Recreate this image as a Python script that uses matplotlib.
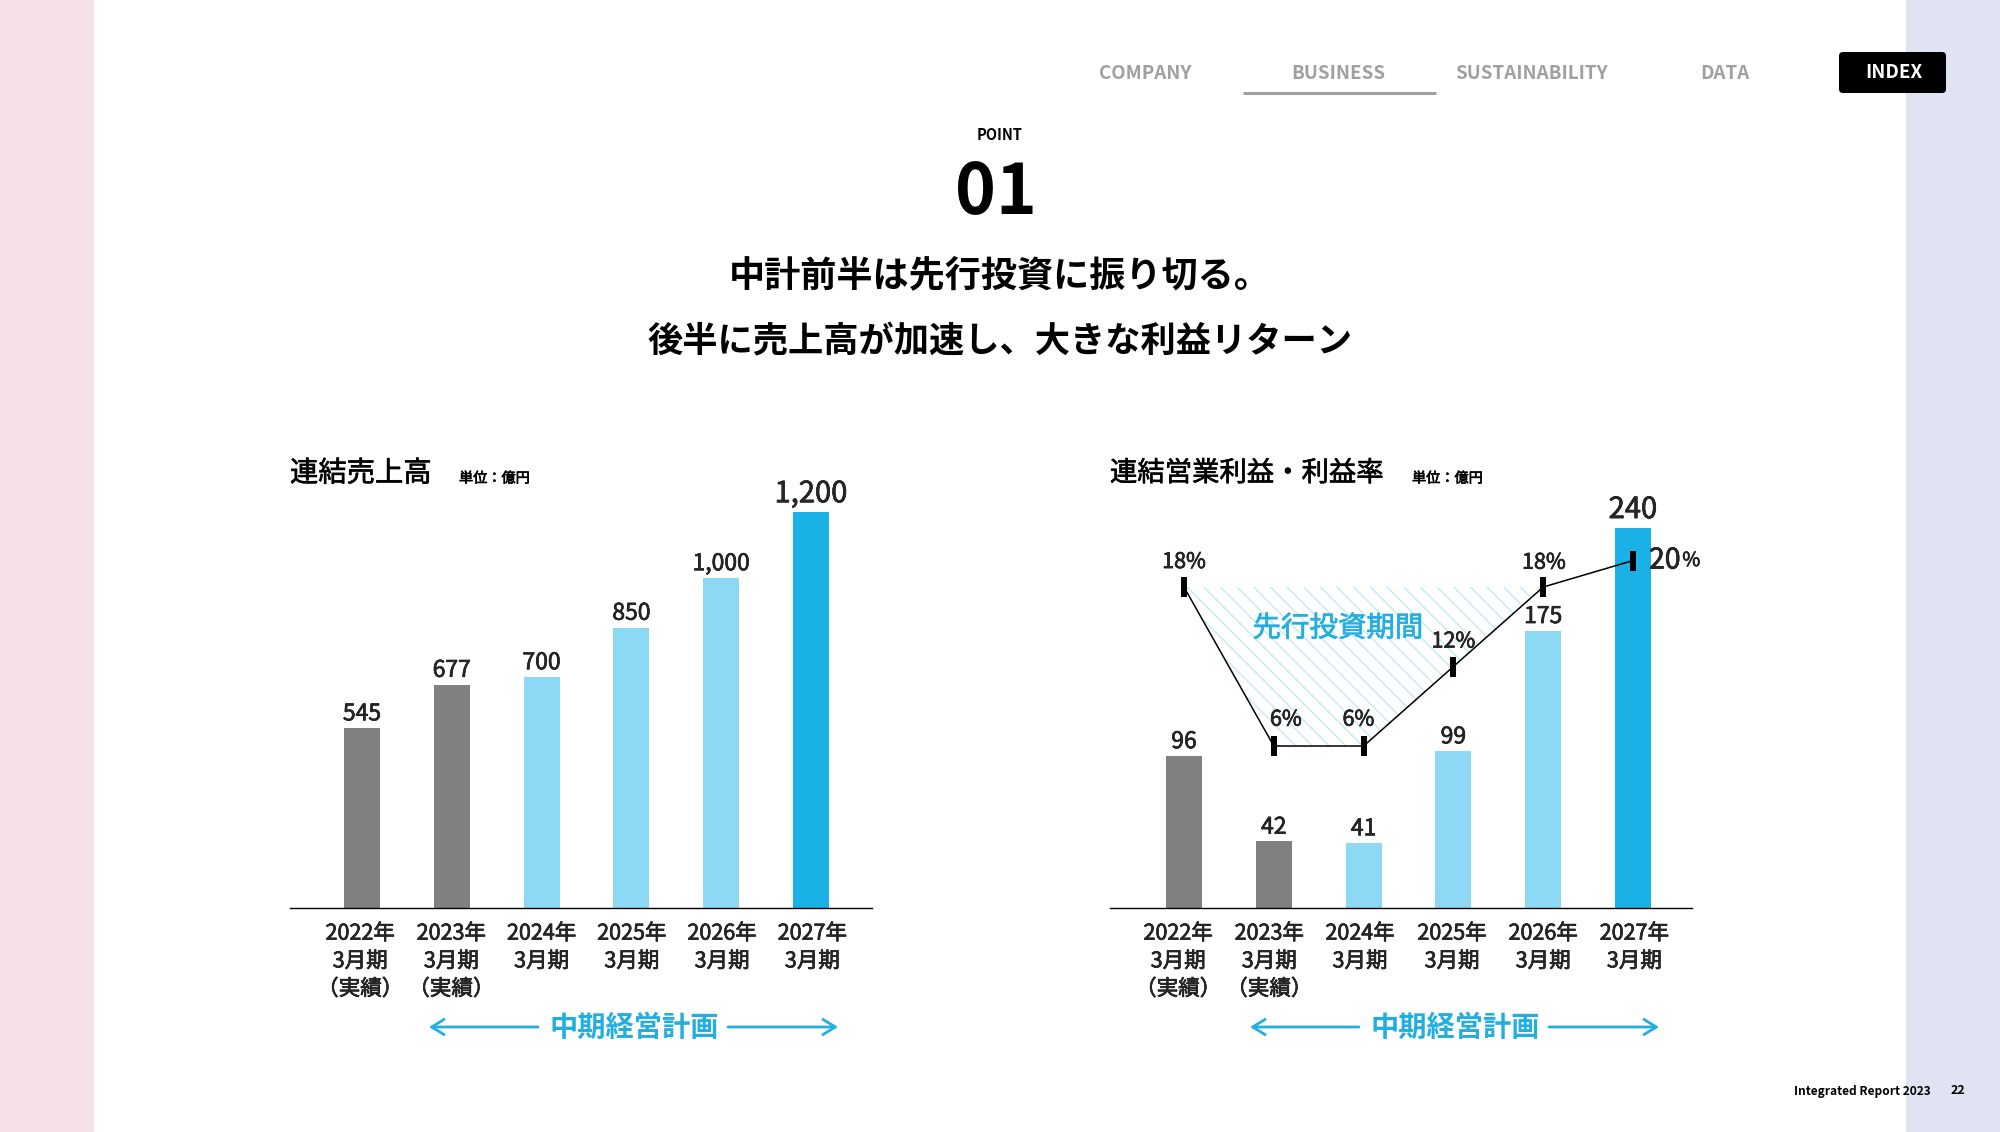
import numpy as np
import matplotlib.pyplot as plt
import matplotlib.patheffects as pe
from matplotlib.patches import Rectangle, FancyBboxPatch

# Use a clean, plain style for the report page
try:
    plt.style.use('seaborn-v0_8-white')
except:
    plt.style.use('default')
plt.rcParams['font.family'] = ['Noto Sans CJK JP', 'DejaVu Sans']
plt.rcParams['hatch.linewidth'] = 1.0

W, H = 2000, 1132
GRAY, LIGHT, BLUE = '#808080', '#8dd8f3', '#1ab1e6'
TEXT_BLUE = '#23aee0'
MEDIUM = [pe.withStroke(linewidth=0.45, foreground='black')]  # no Medium weight, thicken Regular

def draw_bars(fig, values, left, right, centers, label_shift, top=480, base=908, unit=0.33):
    """Draws one bar panel on its own axes, placed by pixel position on the page."""

    # 1. Axes placed on the page
    ax = fig.add_axes([left / W, 1 - base / H, (right - left) / W, (base - top) / H])
    step = (centers[1] - centers[0])
    ax.set_xlim((left - centers[0]) / step, (right - centers[0]) / step)
    ax.set_ylim(0, (base - top) / unit)
    ax.patch.set_visible(False)

    # 2. Bars
    x = np.arange(len(values))
    colors = [GRAY, GRAY, LIGHT, LIGHT, LIGHT, BLUE]
    bars = ax.bar(x, values, width=36 / step, color=colors)

    # 3. Value labels
    texts = ax.bar_label(bars, labels=[f'{v:,}' for v in values], padding=2, fontsize=16.5, path_effects=MEDIUM)
    texts[-1].set_fontsize(21)

    # Formatting
    for side in ['top', 'left', 'right']:
        ax.spines[side].set_visible(False)
    ax.spines['bottom'].set_linewidth(1.0)
    ax.spines['bottom'].set_color('black')
    ax.set_yticks([])
    ax.set_xticks(x + np.array(label_shift))
    ax.set_xticklabels(['2022年\n3月期\n（実績）', '2023年\n3月期\n（実績）', '2024年\n3月期\n', '2025年\n3月期\n', '2026年\n3月期\n', '2027年\n3月期\n'],
                       fontsize=15.5, linespacing=1.34, va='top', path_effects=MEDIUM)
    ax.tick_params(axis='x', length=0, pad=10.5)
    ax.grid(False)
    return ax

def run_page():
    """Builds the whole page and saves it."""

    sales = [545, 677, 700, 850, 1000, 1200]
    profit = [96, 42, 41, 99, 175, 240]
    margin = [18, 6, 6, 12, 18, 20]

    fig = plt.figure(figsize=(W / 100, H / 100), dpi=100, facecolor='white')

    # --- PLOTTING ---
    ax1 = draw_bars(fig, sales, 290, 872, [362, 451.8], [-0.02, -0.005, 0, 0.005, 0.01, 0.015])
    ax2 = draw_bars(fig, profit, 1110, 1692, [1184, 1273.8], [-0.065, -0.05, -0.04, -0.015, 0, 0.015], unit=1.584)

    # Profit margin line, on a second scale over the right bars
    twin = ax2.twinx()
    twin.set_ylim(-6.226, 26.08)
    twin.set_yticks([])
    twin.patch.set_visible(False)
    for side in twin.spines:
        twin.spines[side].set_visible(False)
    x = np.arange(len(margin))
    twin.fill_between(x[:5], margin[:5], 18, facecolor='none', edgecolor='#c8e8f4', hatch='\\\\', lw=0)
    twin.plot(x, margin, color='black', lw=1.1, marker='|', ms=14, mew=4.3)

    offsets = [(0, 18), (8.7, 19), (-3.7, 19), (0, 18), (0.5, 17.5)]
    for i, (dx, dy) in enumerate(offsets):
        twin.annotate(f'{margin[i]}%', (i, margin[i]), xytext=(dx, dy), textcoords='offset points',
                      ha='center', va='center', fontsize=15.5, path_effects=MEDIUM)
    twin.annotate(f'{margin[5]}', (5, margin[5]), xytext=(11.5, 0), textcoords='offset points',
                  ha='left', va='center', fontsize=20.5, path_effects=MEDIUM)
    twin.annotate('%', (5, margin[5]), xytext=(35.5, 0), textcoords='offset points',
                  ha='left', va='center', fontsize=14, path_effects=MEDIUM)

    # Page layer in pixel units: colour bands, menu, headings
    page = fig.add_axes([0, 0, 1, 1], zorder=5)
    page.set_xlim(0, W)
    page.set_ylim(H, 0)
    page.axis('off')
    page.add_patch(Rectangle((0, 0), 94, H, color='#f7e1e9', lw=0))
    page.add_patch(Rectangle((1906, 0), 94, H, color='#e0e3f1', lw=0))

    menu = [('COMPANY', 1145), ('BUSINESS', 1338), ('SUSTAINABILITY', 1532), ('DATA', 1724.5)]
    for name, mx in menu:
        page.text(mx, 73.5, name, ha='center', va='center', fontsize=13.5, fontweight='bold', color='#a0a0a0')
    page.plot([1243, 1436], [92.5, 92.5], color='#a0a0a0', lw=2.2, solid_capstyle='butt')
    page.add_patch(FancyBboxPatch((1843, 56), 99, 33, boxstyle='round,pad=4', color='black', lw=0))
    page.text(1894, 73, 'INDEX', ha='center', va='center', fontsize=13.5, fontweight='bold', color='white')

    page.text(1000, 135.5, 'POINT', ha='center', va='center', fontsize=10.5, fontweight='bold', color='black')
    page.text(996, 194, '01', ha='center', va='center', fontsize=50, fontweight='bold', color='black')
    page.text(1000, 276, '中計前半は先行投資に振り切る。', ha='center', va='center', fontsize=26, fontweight='bold', color='black')
    page.text(1000, 342, '後半に売上高が加速し、大きな利益リターン', ha='center', va='center', fontsize=25.4, fontweight='bold', color='black')

    page.text(290, 473.5, '連結売上高', ha='left', va='center', fontsize=20.4, color='black', path_effects=MEDIUM)
    page.text(459, 478.5, '単位：億円', ha='left', va='center', fontsize=10.2, color='black', path_effects=MEDIUM)
    page.text(1110, 473.5, '連結営業利益・利益率', ha='left', va='center', fontsize=19.7, color='black', path_effects=MEDIUM)
    page.text(1412, 478.5, '単位：億円', ha='left', va='center', fontsize=10.2, color='black', path_effects=MEDIUM)

    page.text(1338, 628.5, '先行投資期間', ha='center', va='center', fontsize=20.5, color=TEXT_BLUE,
              path_effects=[pe.withStroke(linewidth=0.45, foreground=TEXT_BLUE)])

    # Mid-term plan arrows under each panel
    for center, shift in [(634, 0), (1455, 821)]:
        page.text(center, 1028, '中期経営計画', ha='center', va='center', fontsize=20.3, fontweight='bold', color=TEXT_BLUE)
        arrow = dict(arrowstyle='->,head_length=0.9,head_width=0.55', color=TEXT_BLUE, lw=2, shrinkA=0, shrinkB=0)
        page.annotate('', xy=(429 + shift, 1027), xytext=(538 + shift, 1027), arrowprops=arrow)
        page.annotate('', xy=(838 + shift, 1027), xytext=(728 + shift, 1027), arrowprops=arrow)

    page.text(1931, 1091, 'Integrated Report 2023', ha='right', va='center', fontsize=8.6, fontweight='bold', color='black')
    page.text(1958, 1091, '22', ha='center', va='center', fontsize=9, fontweight='bold', color='black')

    plt.savefig('out.png', dpi=100)
    print("Saved out.png")

run_page()
